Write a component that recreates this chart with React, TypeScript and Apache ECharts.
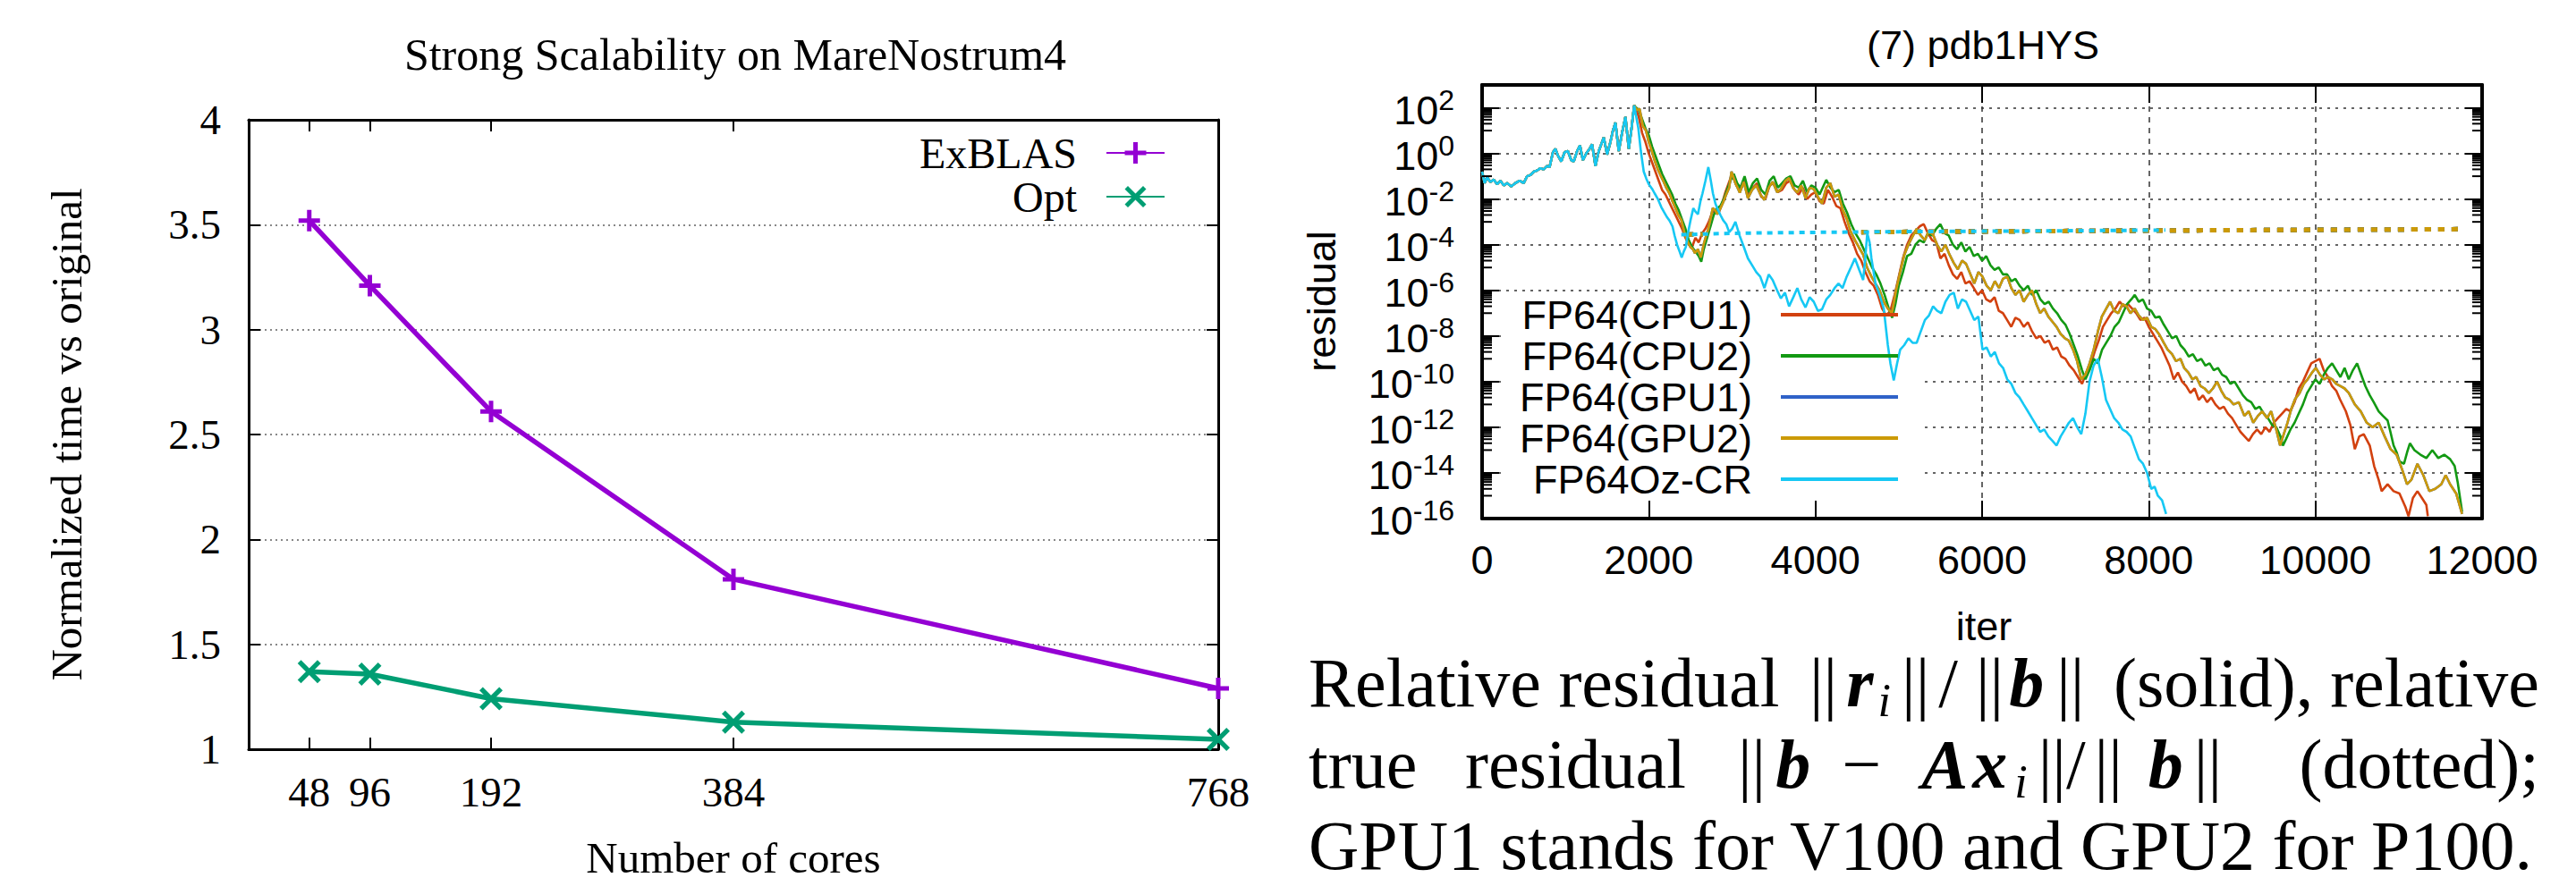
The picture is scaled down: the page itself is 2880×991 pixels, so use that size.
import React, { useEffect, useRef } from 'react';
import * as echarts from 'echarts';

const SERIF = '"Liberation Serif", "Times New Roman", Times, serif';
const SANS = '"Liberation Sans", Arial, Helvetica, sans-serif';

// ---------- left chart data ----------
const cores = [48, 96, 192, 384, 768];
const exblas = [3.52, 3.21, 2.61, 1.81, 1.29];
const optVals = [1.37, 1.358, 1.241, 1.129, 1.047];

// ---------- right chart data (iteration, log10 residual) ----------
const iterTicks = [0, 2000, 4000, 6000, 8000, 10000, 12000];
const residualExps = [-16, -14, -12, -10, -8, -6, -4, -2, 0, 2];

const earlyCommon = [[0,-0.8],[30,-1.3],[60,-1.05],[100,-1.25],[140,-1.15],[180,-1.35],[220,-1.2],[260,-1.4],[300,-1.3],[350,-1.45],[400,-1.3],[450,-1.2],[500,-1.3],[540,-1.0],[580,-0.95],[620,-0.8],[660,-0.75],[700,-0.65],[740,-0.7],[780,-0.55],[810,-0.6],[850,0.05],[880,0.2],[910,-0.1],[950,-0.35],[990,0.05],[1030,0.1],[1070,-0.3],[1100,-0.35],[1140,0.1],[1175,0.35],[1210,-0.3],[1250,0.0],[1290,0.2],[1320,0.4],[1360,-0.55],[1400,0.1],[1430,0.4],[1460,0.7],[1500,-0.05],[1540,0.5],[1570,1.0],[1600,1.35],[1640,0.1],[1680,0.9],[1720,1.6],[1760,0.2],[1790,1.0],[1825,2.1]];

const cpu1Tail = [[1850,1.9],[1880,1.6],[1920,0.9],[1960,0.5],[2000,0.0],[2040,-0.4],[2080,-0.8],[2120,-1.2],[2160,-1.6],[2200,-1.8],[2240,-2.1],[2280,-2.4],[2320,-2.7],[2360,-3.0],[2400,-3.3],[2440,-3.7],[2480,-4.0],[2520,-4.1],[2560,-3.7],[2600,-3.9],[2640,-3.5],[2680,-3.3],[2720,-3.0],[2760,-2.6],[2800,-2.5],[2840,-2.6],[2880,-2.2],[2920,-1.7],[2960,-1.3],[3000,-0.9],[3050,-1.4],[3100,-1.6],[3150,-1.2],[3200,-1.8],[3250,-1.5],[3300,-1.3],[3350,-1.9],[3400,-2.0],[3450,-1.4],[3500,-1.3],[3550,-1.7],[3600,-1.6],[3650,-1.3],[3700,-1.2],[3750,-1.6],[3800,-1.8],[3850,-1.5],[3900,-2.0],[3950,-1.8],[4000,-1.7],[4050,-2.1],[4100,-2.2],[4150,-1.6],[4200,-1.9],[4250,-2.3],[4300,-2.4],[4350,-3.0],[4400,-3.5],[4450,-3.9],[4500,-4.4],[4550,-4.7],[4600,-5.2],[4650,-5.6],[4700,-5.8],[4750,-6.2],[4800,-6.8],[4850,-7.1],[4900,-6.9],[4950,-6.2],[5000,-5.4],[5050,-4.6],[5100,-4.0],[5150,-3.6],[5200,-3.4],[5250,-3.2],[5300,-3.1],[5350,-3.5],[5400,-3.8],[5450,-3.9],[5500,-4.6],[5550,-4.4],[5600,-4.9],[5650,-5.3],[5700,-5.5],[5750,-5.2],[5800,-5.7],[5850,-5.6],[5900,-5.9],[5950,-6.2],[6000,-6.0],[6050,-6.4],[6100,-6.5],[6150,-6.3],[6200,-6.9],[6250,-7.0],[6300,-7.3],[6350,-7.6],[6400,-7.2],[6450,-7.3],[6500,-7.6],[6550,-7.4],[6600,-7.8],[6650,-8.1],[6700,-8.0],[6750,-8.3],[6800,-8.2],[6850,-8.6],[6900,-8.5],[6950,-8.9],[7000,-9.0],[7050,-9.3],[7100,-9.5],[7150,-9.8],[7200,-10.1],[7250,-9.6],[7300,-9.3],[7350,-8.7],[7400,-8.2],[7450,-7.6],[7500,-7.3],[7550,-7.0],[7600,-6.8],[7650,-6.5],[7700,-6.7],[7750,-6.6],[7800,-6.8],[7850,-7.0],[7900,-7.3],[7950,-7.2],[8000,-7.6],[8050,-7.9],[8100,-8.2],[8150,-8.5],[8200,-8.9],[8250,-9.3],[8300,-9.9],[8350,-9.6],[8400,-10.0],[8450,-10.2],[8500,-10.5],[8550,-10.3],[8600,-10.8],[8650,-10.6],[8700,-10.9],[8750,-10.7],[8800,-11.0],[8850,-11.2],[8900,-11.1],[8950,-11.4],[9000,-11.6],[9050,-11.9],[9100,-12.2],[9150,-12.4],[9200,-12.6],[9250,-12.3],[9300,-12.1],[9350,-12.3],[9400,-12.0],[9450,-12.2],[9500,-11.8],[9550,-11.6],[9600,-11.4],[9650,-11.2],[9700,-11.3],[9750,-10.9],[9800,-10.3],[9850,-10.0],[9900,-9.6],[9950,-9.2],[10000,-9.1],[10050,-9.0],[10100,-9.5],[10150,-9.8],[10200,-10.2],[10250,-10.4],[10294,-10.77],[10365,-11.3],[10419,-11.9],[10473,-12.96],[10526,-12.4],[10580,-12.3],[10652,-12.8],[10705,-13.7],[10759,-14.3],[10795,-14.8],[10866,-14.5],[10938,-14.8],[11009,-14.9],[11081,-15.5],[11117,-15.9],[11170,-15.1],[11224,-14.8],[11278,-15.1],[11331,-15.4],[11349,-15.9]];

const cpu2Tail = [[1850,2.0],[1880,1.9],[1920,1.5],[1960,1.1],[2000,0.8],[2040,0.3],[2080,-0.1],[2120,-0.5],[2160,-0.9],[2200,-1.2],[2240,-1.5],[2280,-1.8],[2320,-2.2],[2360,-2.5],[2400,-2.9],[2440,-3.3],[2480,-3.8],[2520,-4.1],[2560,-4.3],[2600,-4.5],[2630,-4.75],[2660,-4.2],[2700,-3.7],[2740,-3.2],[2780,-2.7],[2820,-2.4],[2860,-2.3],[2900,-2.0],[2940,-1.6],[2980,-1.2],[3020,-0.9],[3060,-1.3],[3100,-1.5],[3150,-1.0],[3200,-1.7],[3250,-1.3],[3300,-1.1],[3350,-1.6],[3400,-1.8],[3450,-1.2],[3500,-1.0],[3550,-1.5],[3600,-1.3],[3650,-1.1],[3700,-1.0],[3750,-1.4],[3800,-1.5],[3850,-1.2],[3900,-1.7],[3950,-1.4],[4000,-1.5],[4050,-1.8],[4100,-1.4],[4130,-1.16],[4180,-1.5],[4230,-1.7],[4280,-1.6],[4330,-2.2],[4380,-2.6],[4430,-3.1],[4480,-3.5],[4530,-3.8],[4580,-4.2],[4630,-4.6],[4680,-5.0],[4730,-5.3],[4780,-5.7],[4830,-6.2],[4880,-6.8],[4920,-7.2],[4960,-6.6],[5000,-5.8],[5050,-5.2],[5100,-4.5],[5150,-4.4],[5200,-4.0],[5250,-3.8],[5300,-3.9],[5350,-3.5],[5400,-3.6],[5450,-3.3],[5500,-3.1],[5550,-3.5],[5600,-3.6],[5650,-4.0],[5700,-4.2],[5750,-3.9],[5800,-4.3],[5850,-4.1],[5900,-4.5],[5950,-4.4],[6000,-4.7],[6050,-4.5],[6100,-4.9],[6150,-5.1],[6200,-5.0],[6250,-5.3],[6300,-5.3],[6350,-5.6],[6400,-5.5],[6450,-5.8],[6500,-6.0],[6550,-5.8],[6600,-6.2],[6650,-6.0],[6700,-6.4],[6750,-6.6],[6800,-6.5],[6850,-6.8],[6900,-7.0],[6950,-7.3],[7000,-7.5],[7050,-7.9],[7100,-8.4],[7150,-8.9],[7200,-9.5],[7240,-9.9],[7290,-9.5],[7340,-9.0],[7390,-9.2],[7440,-8.6],[7490,-8.3],[7540,-8.0],[7590,-7.6],[7640,-7.4],[7690,-7.0],[7740,-6.6],[7790,-6.4],[7832,-6.2],[7880,-6.5],[7930,-6.4],[7980,-6.8],[8030,-6.9],[8080,-7.2],[8130,-7.15],[8180,-7.5],[8230,-7.8],[8280,-8.1],[8330,-8.0],[8380,-8.4],[8430,-8.6],[8480,-8.9],[8530,-8.8],[8580,-9.1],[8630,-9.0],[8680,-9.3],[8730,-9.2],[8780,-9.5],[8830,-9.4],[8880,-9.7],[8930,-9.8],[8980,-10.1],[9030,-10.0],[9080,-10.3],[9130,-10.6],[9180,-10.8],[9230,-10.9],[9280,-11.2],[9330,-11.1],[9380,-11.4],[9430,-11.6],[9480,-11.9],[9530,-12.0],[9580,-12.4],[9610,-12.8],[9650,-12.5],[9700,-12.1],[9750,-11.8],[9800,-11.4],[9850,-11.0],[9900,-10.5],[9950,-10.2],[10000,-9.9],[10050,-10.1],[10100,-9.7],[10150,-9.4],[10200,-9.2],[10250,-9.5],[10300,-9.8],[10350,-9.4],[10400,-9.9],[10450,-9.5],[10500,-9.2],[10550,-9.7],[10600,-10.2],[10652,-10.6],[10700,-10.9],[10759,-11.3],[10810,-11.5],[10866,-11.7],[10900,-12.2],[10938,-12.8],[10975,-13.1],[11009,-13.5],[11063,-13.6],[11100,-13.1],[11134,-12.7],[11188,-13.0],[11260,-13.2],[11331,-13.35],[11403,-13.0],[11474,-13.35],[11546,-13.2],[11617,-13.4],[11671,-13.7],[11707,-14.4],[11760,-15.7]];

const gpu2Tail = [[1860,1.9],[1890,1.95],[1930,1.2],[1966,1.0],[2000,0.5],[2037,0.1],[2070,-0.3],[2109,-0.7],[2140,-0.95],[2177,-1.23],[2210,-1.5],[2248,-1.75],[2285,-2.1],[2320,-2.4],[2355,-2.7],[2392,-2.93],[2427,-3.45],[2463,-3.84],[2499,-4.1],[2530,-4.2],[2553,-4.37],[2590,-4.2],[2625,-4.56],[2660,-3.97],[2690,-3.6],[2714,-3.32],[2740,-2.9],[2768,-2.4],[2800,-2.5],[2822,-2.67],[2860,-2.4],[2893,-2.14],[2930,-1.8],[2965,-1.5],[2993,-0.8],[3040,-1.3],[3092,-1.72],[3140,-1.25],[3190,-1.96],[3240,-1.6],[3289,-1.4],[3340,-1.8],[3388,-2.04],[3440,-1.5],[3487,-1.24],[3540,-1.7],[3585,-1.56],[3640,-1.2],[3684,-1.08],[3730,-1.5],[3783,-1.72],[3830,-1.4],[3881,-1.96],[3930,-1.5],[3980,-1.56],[4030,-1.9],[4079,-2.2],[4130,-1.5],[4178,-1.3],[4230,-1.9],[4277,-1.8],[4330,-2.5],[4375,-2.84],[4420,-3.4],[4474,-3.8],[4520,-4.1],[4573,-4.44],[4620,-5.0],[4672,-5.4],[4720,-5.7],[4770,-6.0],[4820,-6.5],[4869,-6.8],[4918,-7.0],[4968,-6.0],[5017,-5.2],[5067,-4.44],[5116,-4.0],[5166,-3.64],[5215,-3.3],[5264,-3.6],[5314,-3.8],[5360,-3.4],[5412,-3.56],[5460,-4.0],[5511,-4.3],[5560,-4.0],[5610,-4.44],[5660,-4.8],[5709,-5.08],[5760,-4.7],[5808,-4.84],[5860,-5.3],[5906,-5.7],[5956,-5.2],[6005,-5.4],[6055,-5.8],[6104,-6.0],[6153,-5.6],[6203,-5.9],[6250,-5.5],[6302,-5.4],[6350,-5.9],[6400,-6.2],[6450,-6.0],[6499,-6.5],[6550,-6.2],[6598,-6.0],[6650,-6.6],[6697,-7.0],[6745,-6.8],[6795,-7.15],[6850,-7.4],[6894,-7.6],[6940,-7.9],[6993,-8.1],[7040,-8.2],[7092,-8.6],[7140,-9.1],[7190,-9.9],[7240,-9.7],[7290,-9.2],[7339,-8.6],[7390,-7.8],[7437,-7.15],[7490,-6.8],[7536,-6.5],[7585,-6.9],[7635,-7.0],[7685,-6.6],[7733,-6.7],[7780,-7.0],[7832,-6.8],[7880,-7.1],[7931,-7.3],[7980,-7.2],[8030,-7.6],[8080,-7.7],[8129,-7.95],[8180,-8.3],[8227,-8.6],[8280,-8.8],[8326,-9.1],[8380,-9.0],[8425,-9.4],[8475,-9.6],[8524,-9.9],[8570,-9.8],[8623,-10.2],[8670,-10.3],[8721,-10.5],[8770,-10.3],[8820,-10.0],[8870,-10.4],[8919,-10.7],[8970,-10.8],[9018,-11.0],[9080,-10.9],[9147,-11.5],[9200,-11.3],[9254,-11.8],[9310,-11.5],[9361,-11.3],[9420,-11.6],[9469,-11.3],[9530,-12.1],[9576,-12.8],[9620,-12.3],[9665,-11.8],[9710,-11.2],[9755,-10.77],[9810,-10.5],[9860,-10.1],[9906,-9.9],[9960,-9.6],[10005,-9.4],[10055,-9.7],[10104,-9.9],[10150,-9.8],[10203,-9.9],[10250,-10.1],[10301,-10.2],[10350,-10.3],[10401,-10.5],[10473,-11.0],[10544,-11.3],[10616,-11.8],[10687,-12.0],[10759,-11.8],[10831,-12.4],[10902,-12.96],[10974,-13.2],[11045,-13.9],[11099,-14.5],[11152,-14.3],[11224,-13.6],[11295,-14.1],[11367,-14.8],[11438,-14.7],[11510,-14.5],[11563,-14.1],[11617,-14.5],[11689,-14.9],[11760,-15.8]];

const ozTail = [[1850,1.6],[1875,1.1],[1905,0.1],[1940,-0.8],[1970,-1.1],[2000,-1.35],[2040,-1.55],[2070,-1.75],[2110,-2.0],[2150,-2.35],[2180,-2.55],[2220,-2.8],[2250,-2.95],[2285,-3.2],[2310,-3.6],[2340,-4.0],[2370,-4.3],[2395,-4.56],[2420,-4.3],[2445,-4.1],[2470,-3.5],[2500,-2.95],[2535,-2.4],[2560,-2.55],[2590,-2.67],[2620,-2.1],[2645,-1.75],[2680,-1.2],[2715,-0.6],[2745,-1.2],[2770,-1.75],[2800,-2.2],[2822,-2.4],[2860,-2.7],[2893,-2.93],[2930,-3.1],[2965,-3.45],[3000,-3.3],[3040,-3.0],[3090,-3.6],[3141,-4.1],[3190,-4.6],[3240,-4.9],[3290,-5.2],[3338,-5.4],[3388,-5.9],[3440,-5.3],[3487,-5.55],[3540,-6.0],[3585,-6.35],[3635,-6.1],[3684,-6.7],[3735,-6.3],[3783,-5.9],[3830,-6.4],[3881,-6.75],[3930,-6.3],[3980,-6.5],[4030,-6.9],[4079,-6.83],[4130,-6.4],[4178,-6.2],[4230,-5.9],[4277,-5.7],[4325,-5.9],[4375,-5.4],[4425,-5.0],[4474,-4.6],[4525,-5.1],[4573,-5.55],[4600,-4.5],[4622,-3.5],[4650,-3.9],[4672,-4.6],[4721,-5.7],[4770,-6.2],[4820,-6.8],[4869,-8.4],[4900,-9.2],[4940,-9.95],[4980,-9.2],[5017,-8.6],[5066,-8.4],[5116,-8.1],[5166,-8.3],[5215,-8.3],[5264,-7.8],[5314,-7.3],[5363,-7.1],[5412,-6.7],[5461,-6.9],[5511,-7.0],[5560,-6.5],[5610,-6.2],[5660,-6.1],[5709,-6.8],[5758,-6.4],[5808,-6.5],[5857,-6.9],[5906,-7.3],[5956,-7.15],[6005,-8.6],[6054,-8.5],[6104,-8.9],[6153,-8.7],[6203,-9.2],[6252,-9.4],[6302,-9.9],[6351,-10.1],[6400,-10.5],[6450,-10.7],[6499,-11.0],[6549,-11.3],[6598,-11.6],[6648,-11.9],[6697,-12.2],[6746,-12.1],[6795,-12.4],[6845,-12.6],[6894,-12.8],[6943,-12.4],[6993,-12.1],[7042,-11.8],[7092,-11.6],[7141,-12.0],[7190,-12.3],[7240,-11.4],[7289,-10.0],[7338,-9.3],[7388,-9.0],[7437,-9.8],[7487,-10.8],[7536,-11.2],[7585,-11.6],[7635,-11.8],[7684,-12.1],[7733,-12.2],[7783,-12.4],[7832,-12.9],[7882,-13.4],[7931,-13.6],[7980,-14.0],[8030,-14.7],[8070,-14.6],[8109,-15.0],[8160,-15.2],[8208,-15.8]];

// true residuals (dotted); '-' breaks the line
const fp64TrueResidual = [[2460,-3.55],[2560,-3.55],[2650,-3.54],[2700,'-'],[4550,-3.45],[6000,-3.42],[8000,-3.38],[10000,-3.35],[11780,-3.32]];
const ozTrueResidual = [[2390,-3.56],[3000,-3.5],[4000,-3.46],[5000,-3.43],[6000,-3.41],[7000,-3.39],[8200,-3.36]];

const seriesNames = ['FP64(CPU1)', 'FP64(CPU2)', 'FP64(GPU1)', 'FP64(GPU2)', 'FP64Oz-CR'];
const seriesColors = ['#d2410f', '#139913', '#2f62c8', '#cc9a06', '#16c8f4'];

const PURPLE = '#9400d3';
const TEAL = '#009e73';
const PLUS = 'path://M9.5,0H14.5V9.5H24V14.5H14.5V24H9.5V14.5H0V9.5H9.5Z';
const CROSS = 'path://M0,3.5L3.5,0L12,8.5L20.5,0L24,3.5L15.5,12L24,20.5L20.5,24L12,15.5L3.5,24L0,20.5L8.5,12Z';

function buildOption() {
  const cpu1 = earlyCommon.concat(cpu1Tail);
  const cpu2 = earlyCommon.concat(cpu2Tail);
  const gpu2 = earlyCommon.concat(gpu2Tail);
  const gpu1 = gpu2; // blue curve fully hidden under GPU2 in the picture
  const oz = earlyCommon.concat(ozTail);
  const solids = [cpu1, cpu2, gpu1, gpu2, oz];
  const trues = [fp64TrueResidual, fp64TrueResidual, fp64TrueResidual, fp64TrueResidual, ozTrueResidual];

  const minorTicks: number[] = [];
  residualExps.forEach((k) => {
    if (k <= -16) return;
    for (let m = 1; m <= 9; m++) minorTicks.push(k - 1 + Math.log10(m));
  });

  const blackLine = (w: number) => ({ show: true, onZero: false, lineStyle: { color: '#000', width: w } });

  const rightSeries: any[] = [];
  seriesNames.forEach((name, i) => {
    rightSeries.push({
      name, type: 'line', xAxisIndex: 2, yAxisIndex: 2, data: solids[i],
      symbol: 'none', showSymbol: false, lineStyle: { color: seriesColors[i], width: 2.6 },
      itemStyle: { color: seriesColors[i] }, z: 2,
    });
    rightSeries.push({
      name: name + ' true residual', type: 'line', xAxisIndex: 2, yAxisIndex: 2, data: trues[i],
      symbol: 'none', showSymbol: false, connectNulls: false,
      lineStyle: { color: seriesColors[i], width: i === 4 ? 4 : 5, type: i === 4 ? [6, 6] : [7, 8] },
      itemStyle: { color: seriesColors[i] }, z: 2,
    });
  });

  const textBase = { fill: '#000', fontFamily: SERIF, fontSize: 78, lineHeight: 78, verticalAlign: 'top' };
  const tok = (pad: number[], extra: any = {}) => ({ fontFamily: SERIF, fontSize: 78, lineHeight: 78, verticalAlign: 'top', padding: pad, ...extra });
  const BI = { fontWeight: 'bold', fontStyle: 'italic' };
  const mathRich = {
    n: tok([0, 0, 0, 0]),
    n6: tok([0, 6, 0, 0]),
    n10: tok([0, 10, 0, 0]),
    n11: tok([0, 11, 0, 0]),
    n15: tok([0, 15, 0, 0]),
    n20: tok([0, 20, 0, 0]),
    m: tok([0, 37, 0, 35]),
    bi: tok([0, 0, 0, 0], BI),
    bi5: tok([0, 5, 0, 0], BI),
    bi8: tok([0, 8, 0, 0], BI),
    bi12: tok([0, 12, 0, 14], BI),
    bi14: tok([0, 14, 0, 0], BI),
    biA: tok([0, 5, 0, 8], BI),
    sub12: { fontFamily: SERIF, fontSize: 52, fontStyle: 'italic', verticalAlign: 'top', padding: [33, 12, 0, 0] },
  };

  const para = (x: number, y: number, text: string, align = 'left', rich?: any) => ({
    type: 'text', x, y, style: { ...textBase, text, align, ...(rich ? { rich } : {}) },
  });

  const L1 = 724; // top of text line 1
  const L2 = 815;
  const L3 = 906;

  return {
    animation: false,
    backgroundColor: '#fff',
    textStyle: { fontFamily: SERIF, color: '#000' },
    grid: [
      { left: 278, top: 134, width: 1084, height: 704, containLabel: false, outerBoundsMode: 'none' },
      { left: 1657, top: 95, width: 1118, height: 485, containLabel: false, outerBoundsMode: 'none' },
    ],
    xAxis: [
      {
        gridIndex: 0, type: 'value', min: 0, max: 768, position: 'bottom',
        axisLine: blackLine(3),
        axisTick: { show: true, inside: true, length: 13, lineStyle: { color: '#000', width: 2 }, customValues: cores },
        axisLabel: { customValues: cores, color: '#000', fontFamily: SERIF, fontSize: 47, margin: 24, formatter: (v: number) => String(v) },
        splitLine: { show: false },
      },
      {
        gridIndex: 0, type: 'value', min: 0, max: 768, position: 'top',
        axisLine: blackLine(3),
        axisTick: { show: true, inside: true, length: 13, lineStyle: { color: '#000', width: 2 }, customValues: cores },
        axisLabel: { show: false }, splitLine: { show: false },
      },
      {
        gridIndex: 1, type: 'value', min: 0, max: 12000, interval: 2000, position: 'bottom',
        axisLine: blackLine(4),
        axisTick: { show: true, inside: true, length: 20, lineStyle: { color: '#000', width: 2 }, customValues: iterTicks },
        axisLabel: {
          customValues: iterTicks, color: '#000', fontFamily: SANS, fontSize: 45, margin: 24,
          showMinLabel: true, showMaxLabel: true, formatter: (v: number) => String(v),
        },
        splitLine: { show: true, lineStyle: { color: '#333', width: 1.5, type: [6, 6] } },
      },
      {
        gridIndex: 1, type: 'value', min: 0, max: 12000, interval: 2000, position: 'top',
        axisLine: blackLine(4),
        axisTick: { show: true, inside: true, length: 20, lineStyle: { color: '#000', width: 2 }, customValues: iterTicks },
        axisLabel: { show: false }, splitLine: { show: false },
      },
    ],
    yAxis: [
      {
        gridIndex: 0, type: 'value', min: 1, max: 4, interval: 0.5, position: 'left',
        axisLine: blackLine(3),
        axisTick: { show: true, inside: true, length: 13, lineStyle: { color: '#000', width: 2 } },
        axisLabel: { color: '#000', fontFamily: SERIF, fontSize: 47, margin: 31, showMinLabel: true, showMaxLabel: true },
        splitLine: { show: true, lineStyle: { color: '#888', width: 2, type: [2, 4] } },
      },
      {
        gridIndex: 0, type: 'value', min: 1, max: 4, interval: 0.5, position: 'right',
        axisLine: blackLine(3),
        axisTick: { show: true, inside: true, length: 13, lineStyle: { color: '#000', width: 2 } },
        axisLabel: { show: false }, splitLine: { show: false },
      },
      {
        gridIndex: 1, type: 'value', min: -16, max: 3, interval: 2, position: 'left',
        axisLine: blackLine(4),
        axisTick: { show: true, inside: true, length: 19, lineStyle: { color: '#000', width: 2 }, customValues: residualExps },
        axisLabel: {
          customValues: residualExps, margin: 31, color: '#000',
          showMinLabel: true, showMaxLabel: true,
          formatter: (v: number) => `{b|10}{s|${v}}`,
          rich: {
            b: { fontFamily: SANS, fontSize: 45, verticalAlign: 'bottom', color: '#000' },
            s: { fontFamily: SANS, fontSize: 32, verticalAlign: 'top', padding: [0, 0, 18, 0], color: '#000' },
          },
        },
        splitLine: { show: true, lineStyle: { color: '#333', width: 1.5, type: [3, 6] } },
      },
      {
        gridIndex: 1, type: 'value', min: -16, max: 3, interval: 2, position: 'right',
        axisLine: blackLine(4),
        axisTick: { show: true, inside: true, length: 19, lineStyle: { color: '#000', width: 2 }, customValues: residualExps },
        axisLabel: { show: false }, splitLine: { show: false },
      },
    ],
    legend: [
      {
        data: ['ExBLAS', 'Opt'], orient: 'vertical', align: 'right', right: 1577, top: 146.5,
        itemWidth: 65, itemHeight: 30, itemGap: 0, padding: 0, selectedMode: false,
        textStyle: { fontFamily: SERIF, fontSize: 48, color: '#000', lineHeight: 49, padding: [0, 28, 0, 0] },
      },
      {
        data: seriesNames, orient: 'vertical', align: 'right', right: 758, top: 329,
        itemWidth: 131, itemHeight: 4, itemGap: 0, padding: 0, icon: 'rect', selectedMode: false,
        textStyle: { fontFamily: SANS, fontSize: 45, color: '#000', lineHeight: 46, padding: [0, 27, 0, 0] },
      },
    ],
    graphic: [
      // hides the grid lines behind the right chart key (gnuplot opaque key)
      { type: 'rect', z: 1, silent: true, shape: { x: 1679, y: 331, width: 470, height: 227 }, style: { fill: '#fff' } },
      { type: 'text', x: 822, y: 61, style: { text: 'Strong Scalability on MareNostrum4', fontFamily: SERIF, fontSize: 50, fill: '#000', align: 'center', verticalAlign: 'middle' } },
      { type: 'text', x: 74, y: 486, rotation: Math.PI / 2, style: { text: 'Normalized time vs original', fontFamily: SERIF, fontSize: 49, fill: '#000', align: 'center', verticalAlign: 'middle' } },
      { type: 'text', x: 820, y: 959, style: { text: 'Number of cores', fontFamily: SERIF, fontSize: 49, fill: '#000', align: 'center', verticalAlign: 'middle' } },
      { type: 'text', x: 2217, y: 50, style: { text: '(7) pdb1HYS', fontFamily: SANS, fontSize: 45, fill: '#000', align: 'center', verticalAlign: 'middle' } },
      { type: 'text', x: 1477, y: 337, rotation: Math.PI / 2, style: { text: 'residual', fontFamily: SANS, fontSize: 45, fill: '#000', align: 'center', verticalAlign: 'middle' } },
      { type: 'text', x: 2218, y: 700, style: { text: 'iter', fontFamily: SANS, fontSize: 45, fill: '#000', align: 'center', verticalAlign: 'middle' } },
      para(1463, L1, 'Relative residual'),
      para(2023, L1, '{n10|||}{bi5|r}{sub12|i}{n10|||}{n20|/}{n6|||}{bi14|b}{n|||}', 'left', mathRich),
      para(2363, L1, '(solid),'),
      para(2839, L1, 'relative', 'right'),
      para(1463, L2, 'true'),
      para(1638, L2, 'residual'),
      para(1943, L2, '{n11|||}{bi|b}{m|−}{biA|A}{bi8|x}{sub12|i}{n|||}{n10|/}{n15|||}{bi12|b}{n|||}', 'left', mathRich),
      para(2839, L2, '(dotted);', 'right'),
      para(1463, L3, 'GPU1 stands for V100 and GPU2 for P100.'),
    ],
    series: [
      {
        name: 'ExBLAS', type: 'line', xAxisIndex: 0, yAxisIndex: 0,
        data: cores.map((c, i) => [c, exblas[i]]),
        symbol: PLUS, symbolSize: 24, showSymbol: true,
        lineStyle: { color: PURPLE, width: 5.5 }, itemStyle: { color: PURPLE }, z: 3,
      },
      {
        name: 'Opt', type: 'line', xAxisIndex: 0, yAxisIndex: 0,
        data: cores.map((c, i) => [c, optVals[i]]),
        symbol: CROSS, symbolSize: 26, showSymbol: true,
        lineStyle: { color: TEAL, width: 5.5 }, itemStyle: { color: TEAL }, z: 3,
      },
      ...rightSeries,
      {
        type: 'custom', name: 'minor ticks', xAxisIndex: 2, yAxisIndex: 2, silent: true, z: 5,
        data: minorTicks.map((v) => [0, v]),
        renderItem: (params: any, api: any) => {
          const y = api.coord([0, api.value(1)])[1];
          const xl = api.coord([0, 0])[0];
          const xr = api.coord([12000, 0])[0];
          return {
            type: 'group',
            children: [
              { type: 'line', shape: { x1: xl, y1: y, x2: xl + 11, y2: y }, style: { stroke: '#000', lineWidth: 2 } },
              { type: 'line', shape: { x1: xr - 11, y1: y, x2: xr, y2: y }, style: { stroke: '#000', lineWidth: 2 } },
            ],
          };
        },
      },
    ],
  };
}

export default function App() {
  const ref = useRef<HTMLDivElement>(null);
  useEffect(() => {
    const chart = echarts.init(ref.current as HTMLDivElement, undefined, { renderer: 'svg' });
    chart.setOption(buildOption() as any);
    return () => chart.dispose();
  }, []);
  return (
    <div
      ref={ref}
      style={{ position: 'fixed', left: 0, top: 0, width: 2880, height: 991, background: '#fff' }}
    />
  );
}
